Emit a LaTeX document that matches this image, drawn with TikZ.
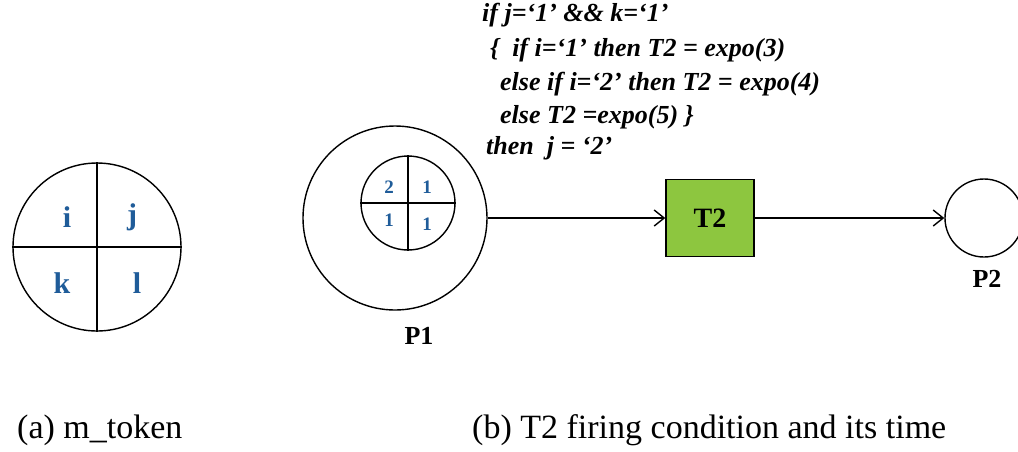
\documentclass[tikz,border=0pt]{standalone}
\usepackage{fontspec}
\setmainfont{Liberation Serif}
\usetikzlibrary{arrows.meta, positioning, calc}
\definecolor{tokenblue}{HTML}{1F5C99}
\definecolor{transgreen}{HTML}{8DC63F}
\newcommand{\fsz}[1]{\fontsize{#1}{#1}\selectfont}
\tikzset{
  place/.style={draw, circle, line width=1.4pt, inner sep=0pt},
  trans/.style={draw, fill=transgreen, line width=1.4pt, inner sep=0pt,
    minimum width=88pt, minimum height=77pt, font=\fsz{28}\bfseries},
  arc/.style={line width=1.4pt, -{Straight Barb[length=10pt, width=16pt]}},
  tokenval/.style={text=tokenblue, font=\fsz{30}\bfseries},
  smallval/.style={text=tokenblue, font=\fsz{19}\bfseries},
  plabel/.style={font=\fsz{26}\bfseries},
  cond/.style={anchor=west, inner sep=0pt, font=\fsz{26}\bfseries\itshape},
  caption/.style={anchor=west, inner sep=0pt, font=\fsz{34}}
}

\begin{document}
\begin{tikzpicture}[x=1pt, y=-1pt]
  \useasboundingbox (0,0) rectangle (1018,451);

  % (a) the m_token
  \node[place, minimum size=168pt] (mtok) at (97,247) {};
  \draw[line width=1.4pt] (mtok.north) -- (mtok.south);
  \draw[line width=1.4pt] (mtok.west) -- (mtok.east);
  \node[tokenval] (ti) at (67,217) {i};
  \node[tokenval] (tj) at (132,217) {j};
  \node[tokenval] (tk) at (62,283) {k};
  \node[tokenval] (tl) at (137,283) {l};

  % (b) places, transition, arcs
  \node[place, minimum size=184pt] (p1) at (395,218) {};
  \node[place, minimum size=94pt] (tok) at (408,203) {};
  \draw[line width=1.4pt] (tok.north) -- (tok.south);
  \draw[line width=1.4pt] (tok.west) -- (tok.east);
  \node[smallval] (v2) at (389,187) {2};
  \node[smallval] (v1a) at (427,187) {1};
  \node[smallval] (v1b) at (389,220) {1};
  \node[smallval] (v1c) at (427,224) {1};
  \node[plabel] (p1lab) at (419,336) {P1};

  \node[trans] (t2) at (710,218) {T2};
  \node[place, minimum size=78pt] (p2) at (984,218) {};
  \node[plabel] (p2lab) at (987,279) {P2};

  \draw[arc] (p1) -- (t2);
  \draw[arc] (t2) -- (p2);

  % firing condition of T2
  \node[cond] (c1) at (482,15) {if j=‘1’ \&\& k=‘1’};
  \node[cond] (c2) at (490,50) {\{ \ if i=‘1’ then T2 = expo(3)};
  \node[cond] (c3) at (500,84) {else if i=‘2’ then T2 = expo(4)};
  \node[cond] (c4) at (500,117) {else T2 =expo(5) \}};
  \node[cond] (c5) at (486,148) {then \ j = ‘2’};

  % captions
  \node[caption] (capa) at (17,430) {(a) m\_token};
  \node[caption] (capb) at (472,430) {(b) T2 firing condition and its time};
\end{tikzpicture}
\end{document}
